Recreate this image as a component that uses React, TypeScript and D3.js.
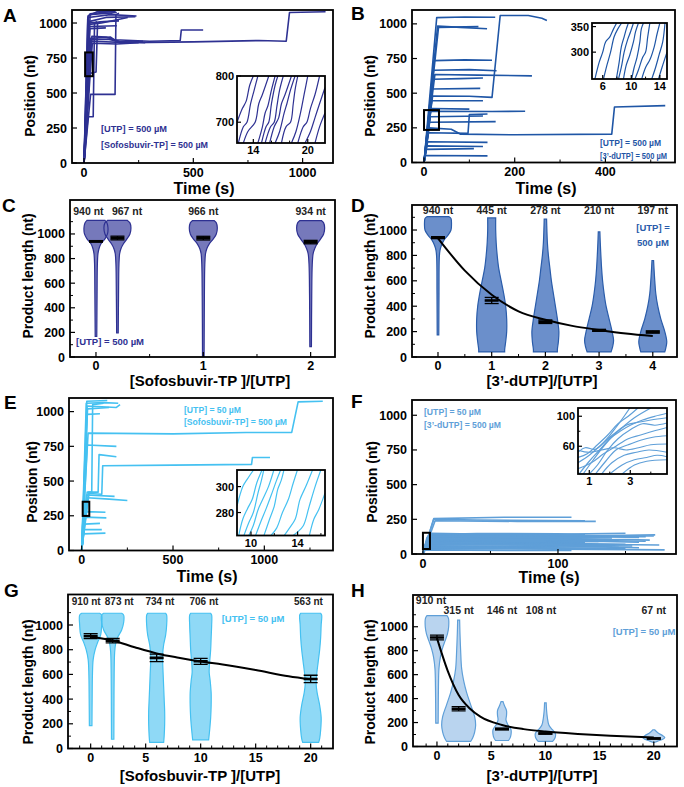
import React from 'react';
import * as d3 from 'd3';

type Pt = [number, number];
type Box = { x0: number; x1: number; y0: number; y1: number };

const FONT = "'Liberation Sans', Arial, Helvetica, sans-serif";

// ---------------- Panel A (UTP 500 µM, Sofosbuvir-TP 500 µM)
const aTraces: Pt[][] = [
  [[0, 0], [17, 1030], [25, 1060], [150, 1075]],
  [[0, 0], [18, 1050], [60, 1080], [145, 1085]],
  [[0, 0], [20, 1040], [120, 1060], [240, 1050]],
  [[0, 0], [22, 1010], [100, 1040], [235, 1045]],
  [[0, 0], [23, 1000], [90, 1010], [160, 1015]],
  [[0, 0], [24, 990], [80, 1000], [200, 1040]],
  [[0, 0], [25, 975], [150, 980]],
  [[0, 0], [27, 960], [100, 965]],
  [[0, 0], [28, 1065], [80, 1075], [130, 1070]],
  [[0, 0], [30, 890], [120, 900], [140, 880], [300, 870], [440, 875], [445, 950], [545, 950]],
  [[0, 0], [32, 870], [200, 860], [500, 865], [800, 875], [925, 870], [940, 1075], [1105, 1080]],
  [[0, 0], [34, 880], [110, 885], [180, 860], [270, 870]],
  [[0, 0], [36, 905], [100, 900], [160, 870], [280, 860]],
  [[0, 0], [38, 855], [150, 850], [250, 860]],
  [[0, 0], [30, 490], [142, 490], [146, 1060], [160, 1070]],
  [[0, 0], [18, 330], [42, 330], [48, 1000], [60, 1010]],
  [[0, 0], [25, 640], [55, 650], [62, 1000], [80, 1010]],
];
const aInset: Pt[][] = [
  [[12.2, 700], [12.8, 730], [13.2, 745], [13.6, 780], [14.0, 800]],
  [[12.35, 655], [12.9, 690], [13.3, 700], [13.7, 740], [14.1, 770], [14.5, 800]],
  [[12.9, 655], [13.4, 680], [14.2, 700], [14.6, 740], [15.0, 760], [15.7, 800]],
  [[14.5, 655], [15.0, 690], [15.3, 720], [15.6, 735], [16.0, 770], [16.4, 800]],
  [[14.9, 655], [15.4, 690], [15.7, 700], [16.0, 740], [16.4, 780], [16.7, 800]],
  [[15.3, 655], [15.9, 690], [16.3, 700], [16.6, 735], [16.9, 770], [17.3, 800]],
  [[15.8, 655], [16.3, 690], [16.8, 710], [17.1, 740], [17.5, 760], [18.2, 800]],
  [[16.4, 655], [16.9, 680], [17.4, 720], [17.7, 740], [18.1, 770], [18.6, 800]],
  [[17.1, 655], [17.6, 690], [18.1, 700], [18.4, 740], [18.6, 770], [18.9, 800]],
  [[18.2, 655], [18.7, 680], [19.2, 720], [19.5, 750], [19.6, 760], [20.0, 800]],
  [[18.9, 655], [19.5, 690], [19.9, 700], [20.3, 730], [20.8, 760], [21.3, 800]],
  [[19.7, 655], [20.3, 680], [20.8, 710], [21.3, 740], [21.9, 775]],
  [[20.8, 655], [21.3, 690], [21.9, 720]],
];
const aXTicks = [0, 500, 1000];
const aXMinor = [250, 750];
const aYTicks = [0, 250, 500, 750, 1000];
const aInsetXTicks = [14, 20];
const aInsetXMinor = [16, 18];
const aInsetYTicks = [700, 800];
const aMark: Pt[] = [[5, 620], [40, 790]];
const aNotes = ['[UTP] = 500 µM', '[Sofosbuvir-TP] = 500 µM'];

// ---------------- Panel B (UTP 500 µM, 3'-dUTP 500 µM)
const bTraces: Pt[][] = [
  [[0, 0], [28, 1045], [90, 1050], [157, 1048]],
  [[0, 0], [30, 985], [80, 975], [139, 965]],
  [[0, 0], [32, 975], [120, 980]],
  [[0, 0], [22, 735], [90, 740], [150, 738]],
  [[0, 0], [21, 665], [100, 670], [160, 662]],
  [[0, 0], [24, 635], [120, 630], [238, 625]],
  [[0, 0], [20, 600], [80, 605], [130, 610]],
  [[0, 0], [18, 530], [124, 535]],
  [[0, 0], [19, 480], [100, 478], [150, 470], [168, 1060], [230, 1060], [260, 1040], [271, 1025]],
  [[0, 0], [17, 445], [130, 445]],
  [[0, 0], [15, 390], [100, 385]],
  [[0, 0], [15, 370], [150, 368], [223, 370]],
  [[0, 0], [14, 330], [130, 335]],
  [[0, 0], [12, 290], [158, 295]],
  [[0, 0], [11, 250], [60, 240], [80, 205], [200, 200], [414, 205], [420, 400], [532, 410]],
  [[0, 0], [10, 215], [97, 210], [100, 345], [140, 350]],
  [[0, 0], [8, 150], [140, 145]],
  [[0, 0], [6, 120], [130, 115]],
  [[0, 0], [5, 95], [110, 100]],
  [[0, 0], [3, 50], [140, 48]],
];
const bInset: Pt[][] = [
  [[4.9, 247], [5.5, 280], [6.0, 300], [6.4, 320], [7.0, 330], [7.5, 345], [7.95, 357]],
  [[6.1, 247], [6.6, 275], [7.1, 300], [7.6, 330], [8.1, 345], [8.65, 357]],
  [[7.9, 247], [8.3, 280], [8.6, 310], [9.0, 330], [9.3, 345], [9.6, 357]],
  [[8.2, 247], [8.6, 270], [9.0, 300], [9.5, 325], [9.9, 340], [10.3, 357]],
  [[8.9, 247], [9.3, 275], [9.8, 295], [10.3, 320], [10.6, 340], [11.0, 357]],
  [[10.05, 247], [10.4, 270], [10.8, 290], [11.2, 320], [11.4, 345], [11.7, 357]],
  [[10.5, 247], [11.0, 265], [11.6, 290], [12.0, 300], [12.3, 330], [12.6, 357]],
  [[11.45, 247], [12.0, 270], [12.6, 285], [13.2, 310], [13.6, 335], [14.0, 357]],
  [[12.85, 247], [13.4, 270], [13.9, 295], [14.4, 320], [14.72, 357]],
  [[13.8, 247], [14.3, 270], [15.0, 300]],
];
const bXTicks = [0, 200, 400];
const bXMinor = [100, 300, 500];
const bYTicks = [0, 250, 500, 750, 1000];
const bInsetXTicks = [6, 10, 14];
const bInsetXMinor = [8, 12];
const bInsetYTicks = [300, 350];
const bMark: Pt[] = [[0, 235], [33, 378]];
const bNotes = ['[UTP] = 500 µM', '[3’-dUTP] = 500 µM'];

// ---------------- Panel C (Sofosbuvir-TP, UTP 500 µM)
const cPos = [0, 0.2, 1, 2];
const cMeans = [940, 967, 966, 934];
const cErrs = [6, 15, 15, 14];
const cLabels = ['940 nt', '967 nt', '966 nt', '934 nt'];
const cLabelX = [-0.07, 0.29, 1, 2];
const cProfiles: Pt[][] = [
  [[1110, 9], [1090, 11], [1050, 12], [1000, 11.5], [960, 9], [920, 5], [880, 3], [840, 2], [750, 1.4], [500, 1.1], [168, 0.8]],
  [[1110, 10], [1090, 12.5], [1050, 13.5], [1000, 12.5], [960, 9.5], [920, 6], [880, 3.5], [840, 2.2], [750, 1.5], [500, 1.1], [195, 0.8]],
  [[1108, 11], [1090, 13], [1050, 14], [1000, 13], [960, 10], [920, 6], [880, 3.5], [840, 2.2], [750, 1.5], [500, 1.1], [0, 0.8]],
  [[1108, 11], [1090, 13], [1050, 14], [1000, 13], [960, 10], [920, 6.5], [880, 4], [840, 2.5], [750, 1.6], [500, 1.1], [85, 0.8]],
];
const cXTicks = [0, 1, 2];
const cXMinor = [0.5, 1.5];
const cYTicks = [0, 200, 400, 600, 800, 1000];
const cYMinor = [100, 300, 500, 700, 900, 1100];

// ---------------- Panel D (3'-dUTP, UTP 500 µM)
const dPos = [0, 1, 2, 3, 4];
const dMeans = [940, 445, 278, 210, 197];
const dErrs = [8, 24, 14, 8, 9];
const dLabels = ['940 nt', '445 nt', '278 nt', '210 nt', '197 nt'];
const dProfiles: Pt[][] = [
  [[1105, 11], [1090, 13], [1040, 13.5], [1000, 13], [960, 10], [920, 6], [880, 3.5], [840, 2], [780, 1.3], [500, 1], [175, 0.8]],
  [[1095, 4], [1000, 4], [900, 4.5], [800, 5.5], [700, 7], [600, 9.5], [500, 12], [400, 14], [300, 15], [200, 15], [120, 14], [60, 13], [40, 13]],
  [[1085, 1.2], [1000, 1.5], [900, 2], [800, 3], [700, 4.5], [600, 6], [500, 8], [400, 10], [300, 12], [200, 13.5], [120, 13], [60, 12], [40, 12]],
  [[985, 0.8], [900, 1.2], [800, 1.8], [700, 2.5], [600, 3.5], [500, 5], [400, 7], [300, 10], [200, 13], [130, 14.5], [80, 13.5], [40, 12]],
  [[760, 0.8], [700, 1.2], [600, 2], [500, 3], [400, 5], [300, 8], [200, 12], [120, 14], [70, 13], [40, 12]],
];
const dFit: Pt[] = [[0, 935], [0.5, 680], [1, 490], [1.5, 360], [2, 293], [2.5, 245], [3, 213], [3.5, 185], [4, 165]];
const dXTicks = [0, 1, 2, 3, 4];
const dXMinor = [0.5, 1.5, 2.5, 3.5];
const dYTicks = [0, 200, 400, 600, 800, 1000];
const dYMinor = [100, 300, 500, 700, 900, 1100];

// ---------------- Panel E (UTP 50 µM, Sofosbuvir-TP 500 µM)
const eTraces: Pt[][] = [
  [[0, 0], [25, 1060], [120, 1065], [200, 1060]],
  [[0, 0], [28, 1075], [140, 1080]],
  [[0, 0], [30, 1040], [190, 1030], [210, 1050]],
  [[0, 0], [32, 1020], [150, 1030]],
  [[0, 0], [30, 980], [100, 985]],
  [[0, 0], [35, 845], [500, 840], [900, 850], [1150, 850], [1185, 1070], [1320, 1075]],
  [[0, 0], [30, 760], [190, 750]],
  [[0, 0], [40, 410], [110, 405], [115, 610], [500, 615], [930, 620], [935, 670], [1031, 670]],
  [[0, 0], [38, 420], [90, 420], [95, 690], [190, 675]],
  [[0, 0], [30, 380], [150, 370], [250, 360]],
  [[0, 0], [26, 400], [180, 390]],
  [[0, 0], [30, 420], [55, 420], [60, 1050], [120, 1060]],
  [[0, 0], [20, 280], [130, 275]],
  [[0, 0], [18, 240], [135, 235]],
  [[0, 0], [15, 190], [100, 195]],
  [[0, 0], [12, 150], [110, 150]],
  [[0, 0], [10, 120], [130, 125]],
];
const eInset: Pt[][] = [
  [[8.8, 285], [9.3, 300], [9.7, 306], [10.24, 313]],
  [[8.94, 262], [9.3, 275], [9.7, 283], [10.1, 290], [10.5, 303], [10.96, 313]],
  [[9.38, 262], [9.8, 272], [10.2, 280], [10.6, 295], [10.9, 305], [11.1, 313]],
  [[9.8, 262], [10.2, 270], [10.6, 282], [11.0, 290], [11.5, 300], [11.97, 313]],
  [[10.38, 262], [10.8, 272], [11.3, 283], [11.8, 295], [12.2, 305], [12.55, 313]],
  [[11.1, 262], [11.6, 275], [12.0, 285], [12.3, 298], [12.6, 305], [12.83, 313]],
  [[11.68, 262], [12.2, 268], [12.7, 280], [13.2, 290], [13.6, 302], [13.99, 313]],
  [[12.83, 262], [13.3, 268], [13.8, 275], [14.2, 290], [14.7, 300], [15.29, 313]],
  [[13.56, 262], [14.0, 265], [14.5, 270], [15.0, 285], [15.5, 300], [16.0, 313]],
  [[15.0, 262], [15.4, 275], [15.8, 282], [16.35, 295]],
];
const eXTicks = [0, 500, 1000];
const eXMinor = [250, 750, 1250];
const eYTicks = [0, 250, 500, 750, 1000];
const eInsetXTicks = [10, 14];
const eInsetXMinor = [12, 16];
const eInsetYTicks = [280, 300];
const eMark: Pt[] = [[5.5, 249], [41.6, 351]];
const eNotes = ['[UTP] = 50 µM', '[Sofosbuvir-TP] = 500 µM'];

// ---------------- Panel F (UTP 50 µM, 3'-dUTP 500 µM)
const fTraces: Pt[][] = [
  [[0, 0], [8, 255], [60, 265], [110, 265]],
  [[0, 0], [9, 240], [70, 235], [128, 235]],
  [[0, 0], [8, 250], [40, 245], [120, 240]],
  [[0, 0], [6, 150], [60, 140], [145, 130], [171, 130]],
  [[0, 0], [5, 145], [80, 140], [150, 150]],
  [[0, 0], [5, 130], [100, 125], [165, 125]],
  [[0, 0], [4, 110], [90, 105], [145, 100]],
  [[0, 0], [4, 100], [60, 95], [130, 90]],
  [[0, 0], [3, 90], [70, 85], [120, 80]],
  [[0, 0], [3, 80], [110, 75], [150, 70]],
  [[0, 0], [2, 70], [90, 65], [140, 60]],
  [[0, 0], [2, 60], [60, 55], [100, 55]],
  [[0, 0], [2, 50], [80, 45], [150, 40]],
  [[0, 0], [1.5, 40], [100, 35], [179, 30]],
  [[0, 0], [1.5, 30], [70, 25], [110, 25]],
  [[0, 0], [3, 120], [50, 115], [110, 110]],
  [[0, 0], [3, 100], [40, 110], [140, 115]],
  [[0, 0], [4, 135], [100, 130], [160, 120]],
  [[0, 0], [2, 75], [120, 70], [175, 65]],
  [[0, 0], [2, 55], [100, 60], [160, 45]],
  [[0, 0], [5, 90], [50, 85], [90, 95]],
  [[0, 0], [3, 85], [60, 88], [125, 92], [160, 85]],
  [[0, 0], [2, 65], [50, 70], [110, 62], [155, 58]],
  [[0, 0], [4, 115], [70, 120], [120, 118], [140, 125]],
  [[0, 0], [3, 95], [90, 98], [150, 105], [168, 100]],
  [[0, 0], [2, 45], [70, 50], [130, 52], [145, 48]],
  [[0, 0], [5, 140], [40, 148], [100, 145], [120, 138]],
  [[0, 0], [1, 35], [50, 38], [90, 42], [130, 35]],
  [[0, 0], [4, 125], [60, 128], [150, 135], [172, 138]],
  [[0, 0], [3, 105], [80, 108], [140, 95], [165, 92]],
];
const fInset: Pt[][] = [
  [[0.45, 52], [0.8, 58], [1.3, 56], [1.8, 68], [2.3, 85], [2.7, 100], [2.98, 111]],
  [[0.45, 45], [0.9, 50], [1.4, 62], [1.9, 75], [2.4, 90], [2.9, 100], [3.37, 111]],
  [[0.45, 38], [1.0, 48], [1.5, 60], [2.0, 72], [2.6, 85], [3.2, 98], [4.0, 111]],
  [[0.5, 23], [1.0, 40], [1.5, 55], [2.0, 70], [2.5, 80], [3.0, 88], [3.6, 95], [4.2, 100], [4.79, 104]],
  [[0.7, 23], [1.2, 42], [1.7, 60], [2.2, 75], [2.8, 88], [3.4, 92], [4.0, 95], [4.79, 98]],
  [[1.0, 23], [1.4, 35], [1.9, 55], [2.4, 70], [3.0, 82], [3.6, 90], [4.2, 88], [4.79, 91]],
  [[0.45, 30], [1.1, 38], [1.7, 50], [2.3, 60], [2.9, 70], [3.5, 75], [4.1, 80], [4.79, 85]],
  [[1.3, 23], [1.8, 40], [2.3, 55], [2.9, 62], [3.5, 68], [4.1, 72], [4.79, 74]],
  [[0.45, 55], [1.0, 52], [1.6, 55], [2.2, 58], [2.8, 55], [3.4, 58], [4.0, 62], [4.79, 63]],
  [[1.6, 23], [2.1, 38], [2.7, 48], [3.3, 52], [3.9, 55], [4.79, 52]],
  [[2.0, 23], [2.6, 35], [3.2, 42], [3.8, 45], [4.3, 48], [4.79, 46]],
  [[2.6, 23], [3.2, 35], [3.8, 40], [4.79, 42]],
];
const fXTicks = [0, 100];
const fXMinor = [50, 150];
const fYTicks = [0, 250, 500, 750, 1000];
const fInsetXTicks = [1, 3];
const fInsetXMinor = [2, 4];
const fInsetYTicks = [60, 100];
const fInsetYMinor = [80];
const fMark: Pt[] = [[0, 36], [5.2, 153]];
const fNotes = ['[UTP] = 50 µM', '[3’-dUTP] = 500 µM'];

// ---------------- Panel G (Sofosbuvir-TP, UTP 50 µM)
const gPos = [0, 2, 6, 10, 20];
const gMeans = [910, 873, 734, 706, 563];
const gErrs = [20, 18, 30, 24, 30];
const gLabels = ['910 nt', '873 nt', '734 nt', '706 nt', '563 nt'];
const gLabelX = [-0.4, 2.6, 6.3, 10.3, 19.8];
const gProfiles: Pt[][] = [
  [[1095, 9], [1080, 11], [1000, 11], [920, 10], [860, 7], [800, 4.5], [720, 2.5], [600, 1.8], [400, 1.5], [185, 1.3]],
  [[1095, 9], [1080, 11], [1020, 11], [960, 9], [900, 5], [850, 3], [780, 2], [600, 1.5], [300, 1.3], [75, 1.2]],
  [[1095, 9], [1080, 10], [1000, 10], [920, 9], [840, 7], [760, 6], [700, 6], [600, 6.5], [500, 7], [400, 7.5], [300, 8], [200, 8], [100, 7.5], [50, 7]],
  [[1095, 10], [1080, 11], [1000, 11], [900, 10.5], [800, 10], [700, 9], [620, 8.5], [550, 9.5], [450, 10.5], [350, 10.5], [250, 10], [150, 9], [70, 8]],
  [[1095, 10], [1080, 11], [1000, 10.5], [900, 10], [800, 9], [700, 7.5], [600, 6], [520, 5.5], [450, 6.5], [350, 9], [250, 10.5], [150, 10], [80, 9], [50, 8]],
];
const gFit: Pt[] = [[0, 905], [2, 875], [4, 820], [6, 770], [8, 735], [10, 705], [12, 680], [15, 635], [18, 585], [20, 560]];
const gXTicks = [0, 5, 10, 15, 20];
const gXMinor = [-1, 1, 2, 3, 4, 6, 7, 8, 9, 11, 12, 13, 14, 16, 17, 18, 19, 21];
const gYTicks = [0, 200, 400, 600, 800, 1000];
const gYMinor = [100, 300, 500, 700, 900, 1100];

// ---------------- Panel H (3'-dUTP, UTP 50 µM)
const hPos = [0, 2, 6, 10, 20];
const hMeans = [910, 315, 146, 108, 67];
const hErrs = [20, 18, 8, 5, 5];
const hLabels = ['910 nt', '315 nt', '146 nt', '108 nt', '67 nt'];
const hLabelX = [-0.55, 2, 6, 9.6, 20];
const hProfiles: Pt[][] = [
  [[1092, 10], [1070, 11.5], [1000, 11.7], [940, 10.5], [880, 8], [820, 5.5], [750, 3.5], [650, 2], [500, 1.5], [195, 1.2]],
  [[1055, 1], [950, 1.3], [800, 2], [650, 3], [550, 5], [450, 8], [350, 12], [250, 16], [180, 17], [120, 16], [70, 14], [42, 12]],
  [[375, 1], [340, 2.5], [300, 4.5], [260, 4.5], [220, 4], [180, 6], [140, 9], [100, 9], [70, 8], [50, 6.5]],
  [[365, 0.8], [300, 1.2], [240, 2], [180, 3.5], [140, 7], [110, 10], [80, 10], [55, 8.5], [42, 7]],
  [[140, 0.8], [115, 4], [90, 9], [75, 11], [60, 9], [45, 4], [35, 1]],
];
const hFit: Pt[] = [[0, 905], [1, 630], [2, 430], [3, 320], [4, 250], [6, 180], [8, 145], [10, 125], [13, 105], [16, 90], [20, 75]];
const hXTicks = [0, 5, 10, 15, 20];
const hXMinor = [-1, 1, 2, 3, 4, 6, 7, 8, 9, 11, 12, 13, 14, 16, 17, 18, 19, 21];
const hYTicks = [0, 200, 400, 600, 800, 1000];
const hYMinor = [100, 300, 500, 700, 900, 1100];

// ---------------- colours
const NAVY = '#2e3192';
const ROYAL = '#1f56a6';
const SKY = '#45c1f1';
const STEEL = '#5f9fd8';

function Axes({ box, xs, ys, xt, xm = [], yt, ym = [], fs, xOff, yOff = 5, tl = 5, sw = 1.8 }: any) {
  return (
    <g fontFamily={FONT} fontWeight="bold" fontSize={fs} fill="#000">
      {xt.map((v: number) => (
        <line key={'xt' + v} x1={xs(v)} x2={xs(v)} y1={box.y1} y2={box.y1 - tl} stroke="#000" strokeWidth={1.2} />
      ))}
      {xm.map((v: number) => (
        <line key={'xm' + v} x1={xs(v)} x2={xs(v)} y1={box.y1} y2={box.y1 - tl * 0.6} stroke="#000" strokeWidth={1} />
      ))}
      {yt.map((v: number) => (
        <line key={'yt' + v} x1={box.x0} x2={box.x0 + tl} y1={ys(v)} y2={ys(v)} stroke="#000" strokeWidth={1.2} />
      ))}
      {ym.map((v: number) => (
        <line key={'ym' + v} x1={box.x0} x2={box.x0 + tl * 0.6} y1={ys(v)} y2={ys(v)} stroke="#000" strokeWidth={1} />
      ))}
      {xt.map((v: number) => (
        <text key={'xl' + v} x={xs(v)} y={box.y1 + xOff} textAnchor="middle">{v}</text>
      ))}
      {yt.map((v: number) => (
        <text key={'yl' + v} x={box.x0 - yOff} y={ys(v)} dy="0.36em" textAnchor="end">{v}</text>
      ))}
      <rect x={box.x0} y={box.y0} width={box.x1 - box.x0} height={box.y1 - box.y0} fill="none" stroke="#000" strokeWidth={sw} />
    </g>
  );
}

function Titles({ letter, lx, ly, xTitle, xtx, xty, yTitle, ytx, yty, xfs = 15, yfs = 14 }: any) {
  return (
    <g fontFamily={FONT} fontWeight="bold" fill="#000">
      <text x={lx} y={ly} fontSize={19}>{letter}</text>
      <text x={xtx} y={xty} fontSize={xfs} textAnchor="middle">{xTitle}</text>
      <text transform={`translate(${ytx},${yty}) rotate(-90)`} fontSize={yfs} textAnchor="middle">{yTitle}</text>
    </g>
  );
}

function Inset({ id, box, xd, yd, lines, color, xt, xm, yt, ym }: any) {
  const xs = d3.scaleLinear().domain(xd).range([box.x0, box.x1]);
  const ys = d3.scaleLinear().domain(yd).range([box.y1, box.y0]);
  const line = d3.line<Pt>().x((d) => xs(d[0])).y((d) => ys(d[1])).curve(d3.curveCatmullRom.alpha(0.5));
  return (
    <g>
      <rect x={box.x0} y={box.y0} width={box.x1 - box.x0} height={box.y1 - box.y0} fill="#fff" />
      <clipPath id={id}>
        <rect x={box.x0} y={box.y0} width={box.x1 - box.x0} height={box.y1 - box.y0} />
      </clipPath>
      <g clipPath={`url(#${id})`}>
        {lines.map((l: Pt[], i: number) => (
          <path key={i} d={line(l) || ''} fill="none" stroke={color} strokeWidth={1.2} />
        ))}
      </g>
      <Axes box={box} xs={xs} ys={ys} xt={xt} xm={xm} yt={yt} ym={ym} fs={11} xOff={11} yOff={3} tl={4} sw={1.8} />
    </g>
  );
}

function TracePanel({ id, box, xd, yd, traces, color, xt, xm, yt, mark, inset, notes, noteX, noteY, noteFs = 9.5, noteLen = [] }: any) {
  const xs = d3.scaleLinear().domain(xd).range([box.x0, box.x1]);
  const ys = d3.scaleLinear().domain(yd).range([box.y1, box.y0]);
  const line = d3.line<Pt>().x((d) => xs(d[0])).y((d) => ys(d[1]));
  return (
    <g>
      <clipPath id={id}>
        <rect x={box.x0} y={box.y0} width={box.x1 - box.x0} height={box.y1 - box.y0} />
      </clipPath>
      <g clipPath={`url(#${id})`}>
        {traces.map((t: Pt[], i: number) => (
          <path key={i} d={line(t) || ''} fill="none" stroke={color} strokeWidth={1.6} strokeLinejoin="round" />
        ))}
      </g>
      <rect
        x={xs(mark[0][0])}
        y={ys(mark[1][1])}
        width={xs(mark[1][0]) - xs(mark[0][0])}
        height={ys(mark[0][1]) - ys(mark[1][1])}
        fill="none"
        stroke="#000"
        strokeWidth={2}
      />
      <Axes box={box} xs={xs} ys={ys} xt={xt} xm={xm} yt={yt} fs={12.5} xOff={13.5} />
      <g fontFamily={FONT} fontWeight="bold" fontSize={noteFs} fill={color}>
        {notes.map((n: string, i: number) =>
          noteLen[i] ? (
            <text key={i} x={noteX} y={noteY[i]} textLength={noteLen[i]} lengthAdjust="spacingAndGlyphs">{n}</text>
          ) : (
            <text key={i} x={noteX} y={noteY[i]}>{n}</text>
          )
        )}
      </g>
      <Inset {...inset} color={color} />
    </g>
  );
}

function ViolinPanel({ id, box, xd, yd, pos, profiles, means, errs, labels, labelX, labelY, labelFs = 10.5, fill, stroke, fit, xt, xm, yt, ym, notes, noteX, noteY }: any) {
  const xs = d3.scaleLinear().domain(xd).range([box.x0, box.x1]);
  const ys = d3.scaleLinear().domain(yd).range([box.y1, box.y0]);
  const areas = profiles.map((p: Pt[], i: number) => {
    const cx = xs(pos[i]);
    const a = d3
      .area<Pt>()
      .y((d) => ys(d[0]))
      .x0((d) => cx - d[1])
      .x1((d) => cx + d[1])
      .curve(d3.curveCatmullRom.alpha(0.5));
    return a(p) || '';
  });
  const fitLine = d3.line<Pt>().x((d) => xs(d[0])).y((d) => ys(d[1])).curve(d3.curveMonotoneX);
  const hw = 7;
  return (
    <g>
      <clipPath id={id}>
        <rect x={box.x0} y={box.y0} width={box.x1 - box.x0} height={box.y1 - box.y0} />
      </clipPath>
      <g clipPath={`url(#${id})`}>
        {areas.map((d: string, i: number) => (
          <path key={'f' + i} d={d} fill={fill} stroke="none" />
        ))}
        {areas.map((d: string, i: number) => (
          <path key={'s' + i} d={d} fill="none" stroke={stroke} strokeWidth={1.2} />
        ))}
        {fit && <path d={fitLine(fit) || ''} fill="none" stroke="#000" strokeWidth={2} />}
        {means.map((m: number, i: number) => {
          const cx = xs(pos[i]);
          return (
            <g key={'m' + i} stroke="#000">
              <line x1={cx - hw} x2={cx + hw} y1={ys(m)} y2={ys(m)} strokeWidth={2.6} />
              <line x1={cx - hw} x2={cx + hw} y1={ys(m + errs[i])} y2={ys(m + errs[i])} strokeWidth={1.3} />
              <line x1={cx - hw} x2={cx + hw} y1={ys(m - errs[i])} y2={ys(m - errs[i])} strokeWidth={1.3} />
              <line x1={cx} x2={cx} y1={ys(m + errs[i])} y2={ys(m - errs[i])} strokeWidth={1.3} />
            </g>
          );
        })}
      </g>
      <Axes box={box} xs={xs} ys={ys} xt={xt} xm={xm} yt={yt} ym={ym} fs={12.5} xOff={13} />
      <g fontFamily={FONT} fontWeight="bold" fontSize={labelFs} fill="#222">
        {labels.map((l: string, i: number) => (
          <text key={i} x={xs(labelX[i])} y={labelY[i]} textAnchor="middle">{l}</text>
        ))}
      </g>
      <g fontFamily={FONT} fontWeight="bold" fontSize={9.5} fill={stroke}>
        {notes.map((n: string, i: number) => (
          <text key={i} x={noteX} y={noteY[i]} textAnchor="middle">{n}</text>
        ))}
      </g>
    </g>
  );
}

export default function App() {
  const boxA: Box = { x0: 72, x1: 333, y0: 10, y1: 163 };
  const boxB: Box = { x0: 412, x1: 675, y0: 10, y1: 162.5 };
  const boxC: Box = { x0: 70, x1: 335, y0: 200, y1: 357 };
  const boxD: Box = { x0: 412, x1: 677, y0: 205, y1: 357 };
  const boxE: Box = { x0: 69, x1: 333, y0: 398, y1: 550.5 };
  const boxF: Box = { x0: 412, x1: 676, y0: 400, y1: 554 };
  const boxG: Box = { x0: 68, x1: 333, y0: 594.5, y1: 748.5 };
  const boxH: Box = { x0: 413, x1: 677, y0: 595, y1: 746.5 };

  return (
    <svg width={684} height={787} style={{ position: 'absolute', left: 0, top: 0, background: '#fff' }}>
      <rect x={0} y={0} width={684} height={787} fill="#fff" />

      {/* A */}
      <TracePanel
        id="clipA"
        box={boxA}
        xd={[-55, 1139]}
        yd={[0, 1093]}
        traces={aTraces}
        color={NAVY}
        xt={aXTicks}
        xm={aXMinor}
        yt={aYTicks}
        mark={aMark}
        notes={aNotes}
        noteX={101}
        noteY={[132, 148]}
        noteLen={[66, 107]}
        inset={{ id: 'clipAi', box: { x0: 237, x1: 325, y0: 76, y1: 143 }, xd: [12.2, 21.9], yd: [655, 800], lines: aInset, xt: aInsetXTicks, xm: aInsetXMinor, yt: aInsetYTicks, ym: [] }}
      />
      <Titles letter="A" lx={3} ly={22} xTitle="Time (s)" xtx={204} xty={194} xfs={16} yTitle="Position (nt)" ytx={35} yty={96} />

      {/* B */}
      <TracePanel
        id="clipB"
        box={boxB}
        xd={[-26.5, 553.5]}
        yd={[0, 1100]}
        traces={bTraces}
        color={ROYAL}
        xt={bXTicks}
        xm={bXMinor}
        yt={bYTicks}
        mark={bMark}
        notes={bNotes}
        noteX={600}
        noteY={[146, 159]}
        noteFs={9}
        noteLen={[61, 67]}
        inset={{ id: 'clipBi', box: { x0: 592, x1: 667, y0: 23, y1: 79 }, xd: [4.5, 15], yd: [247.5, 357], lines: bInset, xt: bInsetXTicks, xm: bInsetXMinor, yt: bInsetYTicks, ym: [] }}
      />
      <Titles letter="B" lx={351} ly={20} xTitle="Time (s)" xtx={546} xty={194} xfs={16} yTitle="Position (nt)" ytx={375} yty={96} />

      {/* C */}
      <ViolinPanel
        id="clipC"
        box={boxC}
        xd={[-0.242, 2.227]}
        yd={[0, 1276]}
        pos={cPos}
        profiles={cProfiles}
        means={cMeans}
        errs={cErrs}
        labels={cLabels}
        labelX={cLabelX}
        labelY={[215, 215, 215, 215]}
        fill="#7679bb"
        stroke={NAVY}
        fit={null}
        xt={cXTicks}
        xm={cXMinor}
        yt={cYTicks}
        ym={cYMinor}
        notes={['[UTP] = 500 µM']}
        noteX={110}
        noteY={[345]}
      />
      <Titles letter="C" lx={2} ly={212} xTitle="[Sofosbuvir-TP ]/[UTP]" xtx={210} xty={386} yTitle="Product length (nt)" ytx={33} yty={276} />

      {/* D */}
      <ViolinPanel
        id="clipD"
        box={boxD}
        xd={[-0.484, 4.451]}
        yd={[0, 1197]}
        pos={dPos}
        profiles={dProfiles}
        means={dMeans}
        errs={dErrs}
        labels={dLabels}
        labelX={dPos}
        labelY={[214, 214, 214, 214, 214]}
        fill="#6b8fcb"
        stroke="#2a5caa"
        fit={dFit}
        xt={dXTicks}
        xm={dXMinor}
        yt={dYTicks}
        ym={dYMinor}
        notes={['[UTP] =', '500 µM']}
        noteX={653}
        noteY={[231, 246]}
      />
      <Titles letter="D" lx={351} ly={212} xTitle="[3’-dUTP]/[UTP]" xtx={542} xty={386} yTitle="Product length (nt)" ytx={375} yty={276} />

      {/* E */}
      <TracePanel
        id="clipE"
        box={boxE}
        xd={[-69.5, 1376]}
        yd={[0, 1098]}
        traces={eTraces}
        color={SKY}
        xt={eXTicks}
        xm={eXMinor}
        yt={eYTicks}
        mark={eMark}
        notes={eNotes}
        noteX={184}
        noteY={[413, 425]}
        noteFs={9}
        noteLen={[57, 103]}
        inset={{ id: 'clipEi', box: { x0: 237, x1: 325, y0: 470, y1: 535.5 }, xd: [8.8, 16.35], yd: [262.3, 312.8], lines: eInset, xt: eInsetXTicks, xm: eInsetXMinor, yt: eInsetYTicks, ym: [] }}
      />
      <Titles letter="E" lx={4} ly={409} xTitle="Time (s)" xtx={207} xty={582} xfs={16} yTitle="Position (nt)" ytx={37} yty={482} />

      {/* F */}
      <TracePanel
        id="clipF"
        box={boxF}
        xd={[-8.1, 187.4]}
        yd={[0, 1110]}
        traces={fTraces}
        color={STEEL}
        xt={fXTicks}
        xm={fXMinor}
        yt={fYTicks}
        mark={fMark}
        notes={fNotes}
        noteX={424}
        noteY={[415, 428]}
        noteFs={9}
        noteLen={[57, 77]}
        inset={{ id: 'clipFi', box: { x0: 578, x1: 667, y0: 408, y1: 474 }, xd: [0.45, 4.79], yd: [23, 111], lines: fInset, xt: fInsetXTicks, xm: fInsetXMinor, yt: fInsetYTicks, ym: fInsetYMinor }}
      />
      <Titles letter="F" lx={351} ly={408} xTitle="Time (s)" xtx={549} xty={583} xfs={16} yTitle="Position (nt)" ytx={377} yty={482} />

      {/* G */}
      <ViolinPanel
        id="clipG"
        box={boxG}
        xd={[-2.06, 22.03]}
        yd={[0, 1247]}
        pos={gPos}
        profiles={gProfiles}
        means={gMeans}
        errs={gErrs}
        labels={gLabels}
        labelX={gLabelX}
        labelY={[605, 605, 605, 605, 605]}
        labelFs={10}
        fill="#8fd9f6"
        stroke={SKY}
        fit={gFit}
        xt={gXTicks}
        xm={gXMinor}
        yt={gYTicks}
        ym={gYMinor}
        notes={['[UTP] = 50 µM']}
        noteX={253}
        noteY={[622]}
      />
      <Titles letter="G" lx={4} ly={597} xTitle="[Sofosbuvir-TP ]/[UTP]" xtx={200} xty={781} yTitle="Product length (nt)" ytx={33} yty={682} />

      {/* H */}
      <ViolinPanel
        id="clipH"
        box={boxH}
        xd={[-2.21, 22.14]}
        yd={[0, 1265]}
        pos={hPos}
        profiles={hProfiles}
        means={hMeans}
        errs={hErrs}
        labels={hLabels}
        labelX={hLabelX}
        labelY={[604, 614, 614, 614, 614]}
        fill="#b9d4ef"
        stroke={STEEL}
        fit={hFit}
        xt={hXTicks}
        xm={hXMinor}
        yt={hYTicks}
        ym={hYMinor}
        notes={['[UTP] = 50 µM']}
        noteX={644}
        noteY={[635]}
      />
      <Titles letter="H" lx={351} ly={597} xTitle="[3’-dUTP]/[UTP]" xtx={542} xty={781} yTitle="Product length (nt)" ytx={375} yty={682} />
    </svg>
  );
}
